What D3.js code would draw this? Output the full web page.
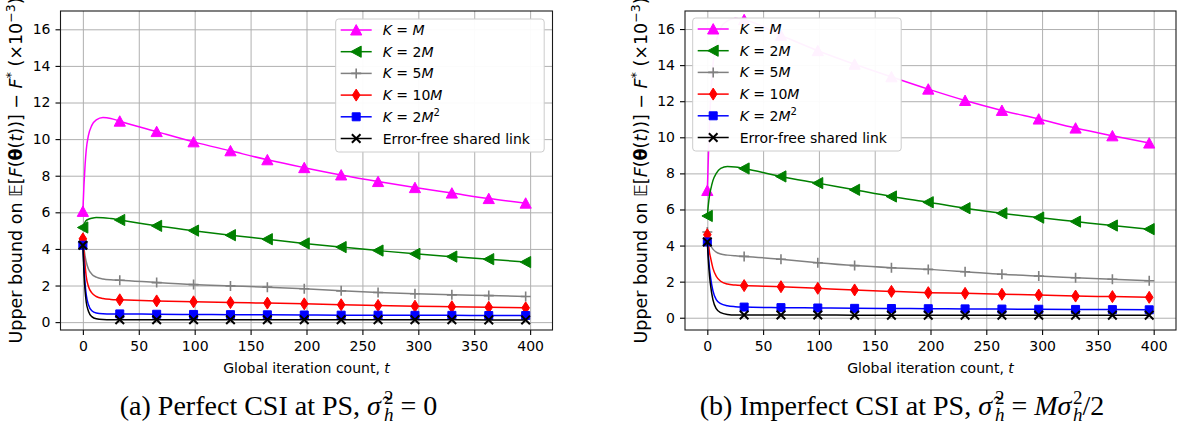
<!DOCTYPE html>
<html lang="en">
<head>
<meta charset="utf-8">
<style>
  body { margin: 0; background: #fff; }
  svg { display: block; font-family: "DejaVu Sans", sans-serif; }
</style>
</head>
<body>
<script src="https://cdn.jsdelivr.net/npm/d3@7"></script>
<script>

// iteration counts where values were read (markers every 33)
var tVals = [0, 1, 2, 3, 5, 8, 12, 18, 25, 33, 66, 99, 132, 165, 198, 231, 264, 297, 330, 363, 396];
var markerT = [0, 33, 66, 99, 132, 165, 198, 231, 264, 297, 330, 363, 396];
var xTicks = [0, 50, 100, 150, 200, 250, 300, 350, 400];
var yTicks = [0, 2, 4, 6, 8, 10, 12, 14, 16];
var legendLabels = ["K = M", "K = 2M", "K = 5M", "K = 10M", "K = 2M^2", "Error-free shared link"];

// (a) perfect CSI
var perfectKM   = [6.05, 7.5, 8.6, 9.4, 10.2, 10.75, 11.05, 11.18, 11.13, 10.98, 10.41, 9.85, 9.36, 8.87, 8.44, 8.04, 7.68, 7.35, 7.05, 6.75, 6.5];
var perfectK2M  = [5.17, 5.35, 5.47, 5.55, 5.62, 5.68, 5.72, 5.71, 5.66, 5.58, 5.26, 5.0, 4.75, 4.53, 4.3, 4.1, 3.91, 3.73, 3.58, 3.44, 3.28];
var perfectK5M  = [4.35, 4.0, 3.6, 3.3, 2.9, 2.62, 2.46, 2.36, 2.31, 2.29, 2.16, 2.05, 1.98, 1.91, 1.82, 1.71, 1.62, 1.55, 1.49, 1.45, 1.4];
var perfectK10M = [4.55, 3.8, 3.1, 2.5, 1.95, 1.6, 1.4, 1.29, 1.24, 1.22, 1.16, 1.11, 1.07, 1.04, 1.0, 0.95, 0.91, 0.87, 0.84, 0.81, 0.78];
var perfectK2M2 = [4.2, 3.0, 2.1, 1.5, 0.95, 0.62, 0.5, 0.46, 0.45, 0.45, 0.43, 0.42, 0.41, 0.4, 0.39, 0.38, 0.38, 0.37, 0.37, 0.36, 0.36];
var perfectFree = [4.2, 2.7, 1.7, 1.1, 0.6, 0.3, 0.18, 0.14, 0.13, 0.13, 0.13, 0.13, 0.13, 0.13, 0.13, 0.13, 0.13, 0.13, 0.13, 0.12, 0.12];

// (b) imperfect CSI
var imperfKM   = [7.05, 9.0, 10.8, 12.2, 14.0, 15.3, 16.05, 16.45, 16.58, 16.52, 15.65, 14.8, 14.05, 13.35, 12.67, 12.04, 11.49, 11.01, 10.51, 10.08, 9.68];
var imperfK2M  = [5.64, 6.3, 6.8, 7.1, 7.6, 8.0, 8.28, 8.38, 8.36, 8.27, 7.83, 7.46, 7.09, 6.72, 6.4, 6.07, 5.79, 5.55, 5.33, 5.11, 4.91];
var imperfK5M  = [4.75, 4.4, 4.15, 4.0, 3.8, 3.63, 3.53, 3.47, 3.43, 3.4, 3.24, 3.05, 2.89, 2.77, 2.68, 2.55, 2.41, 2.31, 2.22, 2.13, 2.05];
var imperfK10M = [4.6, 4.1, 3.6, 3.3, 2.75, 2.3, 2.02, 1.87, 1.81, 1.78, 1.72, 1.63, 1.54, 1.46, 1.39, 1.35, 1.3, 1.26, 1.2, 1.17, 1.13];
var imperfK2M2 = [4.2, 3.4, 2.7, 2.2, 1.5, 1.0, 0.78, 0.66, 0.61, 0.59, 0.56, 0.54, 0.52, 0.51, 0.5, 0.49, 0.48, 0.47, 0.46, 0.45, 0.44];
var imperfFree = [4.2, 3.1, 2.3, 1.75, 1.0, 0.5, 0.28, 0.18, 0.15, 0.15, 0.15, 0.15, 0.14, 0.14, 0.14, 0.14, 0.14, 0.14, 0.14, 0.14, 0.14];

var colors = ["#ff00ff", "#008000", "#808080", "#ff0000", "#0000ff", "#000000"];
var markers = ["triUp", "triLeft", "plus", "thinDiamond", "square", "cross"];

var panels = [
  {id: "a", series: [perfectKM, perfectK2M, perfectK5M, perfectK10M, perfectK2M2, perfectFree],
   left: 60.5, right: 552.5, yMin: -0.43, labelX: 21.7, legendX: 335.7, legendY: 19,
   capX: 278.5, capMain: "(a) Perfect CSI at PS, ", capTail: "a"},
  {id: "b", series: [imperfKM, imperfK2M, imperfK5M, imperfK10M, imperfK2M2, imperfFree],
   left: 685, right: 1176, yMin: -0.68, labelX: 646.7, legendX: 692.7, legendY: 18,
   capX: 902, capMain: "(b) Imperfect CSI at PS, ", capTail: "b"}
];

var plotTop = 11, plotBottom = 330;

function markerPath(type) {
  switch (type) {
    case "triUp": return "M0,-5.4L-5.6,5L5.6,5Z";
    case "triLeft": return "M-5.4,0L5,-5.6L5,5.6Z";
    case "plus": return "M-5,0H5M0,-5V5";
    case "thinDiamond": return "M0,-6L3.8,0L0,6L-3.8,0Z";
    case "square": return "M-4,-4H4V4H-4Z";
    case "cross": return "M-4.3,-4.3L4.3,4.3M-4.3,4.3L4.3,-4.3";
  }
}

function drawMarker(sel, type, color) {
  var open = (type === "plus" || type === "cross");
  sel.append("path")
    .attr("d", markerPath(type))
    .attr("fill", open ? "none" : color)
    .attr("stroke", color)
    .attr("stroke-width", type === "cross" ? 2 : (open ? 1.6 : 1));
}

function mathText(sel, str) {
  if (str.charAt(0) !== "K") { sel.append("tspan").text(str); return; }
  var tokens = str.split(/(K|M|\^\d)/).filter(function(s) { return s.length; });
  tokens.forEach(function(tk) {
    if (tk === "K" || tk === "M") sel.append("tspan").attr("font-style", "italic").text(tk);
    else if (tk.charAt(0) === "^") sel.append("tspan").attr("font-size", 10).attr("dy", -6).text(tk.slice(1));
    else sel.append("tspan").text(tk);
  });
}

// sigma with stacked ^2 and _h, as in the LaTeX captions; next tspan must use dy -6
function sigmaSq(sel, tilde) {
  sel.append("tspan").attr("font-style", "italic").text(tilde ? "\u03C3\u0303" : "\u03C3");
  sel.append("tspan").attr("font-size", 19).attr("dx", tilde ? 3 : 1.5).attr("dy", -11).text("2");
  sel.append("tspan").attr("font-size", 19).attr("font-style", "italic").attr("dx", -9.5).attr("dy", 17).text("h");
}

var svg = d3.select("body").append("svg")
  .attr("width", 1181)
  .attr("height", 427);

panels.forEach(function(p) {
  var x = d3.scaleLinear().domain([-20, 420]).range([p.left, p.right]);
  var y = d3.scaleLinear().domain([p.yMin, 17]).range([plotBottom, plotTop]);
  var g = svg.append("g");

  svg.append("clipPath").attr("id", "clip-" + p.id)
    .append("rect")
    .attr("x", p.left).attr("y", plotTop)
    .attr("width", p.right - p.left).attr("height", plotBottom - plotTop);

  // grid
  g.append("g")
    .attr("transform", "translate(0," + plotBottom + ")")
    .call(d3.axisBottom(x).tickValues(xTicks).tickSize(-(plotBottom - plotTop)).tickFormat(""))
    .call(function(a) { a.select(".domain").remove(); a.selectAll("line").attr("stroke", "#b0b0b0").attr("stroke-width", 1); });
  g.append("g")
    .attr("transform", "translate(" + p.left + ",0)")
    .call(d3.axisLeft(y).tickValues(yTicks).tickSize(-(p.right - p.left)).tickFormat(""))
    .call(function(a) { a.select(".domain").remove(); a.selectAll("line").attr("stroke", "#b0b0b0").attr("stroke-width", 1); });

  // series
  var line = d3.line()
    .x(function(d) { return x(d[0]); })
    .y(function(d) { return y(d[1]); })
    .curve(d3.curveMonotoneX);

  p.series.forEach(function(vals, si) {
    var pts = tVals.map(function(t, i) { return [t, vals[i]]; });
    var sg = g.append("g").attr("clip-path", "url(#clip-" + p.id + ")");
    sg.append("path")
      .attr("d", line(pts))
      .attr("fill", "none")
      .attr("stroke", colors[si])
      .attr("stroke-width", 1.5);
    var mk = pts.filter(function(d) { return markerT.indexOf(d[0]) >= 0; });
    sg.selectAll("g.mk")
      .data(mk)
      .enter().append("g")
      .attr("class", "mk")
      .attr("transform", function(d) { return "translate(" + x(d[0]) + "," + y(d[1]) + ")"; })
      .each(function() { drawMarker(d3.select(this), markers[si], colors[si]); });
  });

  // axes with ticks and labels
  g.append("g")
    .attr("transform", "translate(0," + plotBottom + ")")
    .call(d3.axisBottom(x).tickValues(xTicks).tickSize(5).tickPadding(6.5).tickSizeOuter(0))
    .call(function(a) {
      a.select(".domain").remove();
      a.selectAll("line").attr("stroke", "#000").attr("stroke-width", 1.1);
      a.selectAll("text").attr("font-size", 14).attr("font-family", "DejaVu Sans").attr("fill", "#000");
    });
  g.append("g")
    .attr("transform", "translate(" + p.left + ",0)")
    .call(d3.axisLeft(y).tickValues(yTicks).tickSize(5).tickPadding(5).tickSizeOuter(0))
    .call(function(a) {
      a.select(".domain").remove();
      a.selectAll("line").attr("stroke", "#000").attr("stroke-width", 1.1);
      a.selectAll("text").attr("font-size", 14).attr("font-family", "DejaVu Sans").attr("fill", "#000");
    });

  // spines
  g.append("rect")
    .attr("x", p.left).attr("y", plotTop)
    .attr("width", p.right - p.left).attr("height", plotBottom - plotTop)
    .attr("fill", "none").attr("stroke", "#1a1a1a").attr("stroke-width", 1.1);

  // legend
  var lg = g.append("g").attr("transform", "translate(" + p.legendX + "," + p.legendY + ")");
  lg.append("rect")
    .attr("width", 208.5).attr("height", 133)
    .attr("rx", 3)
    .attr("fill", "#fff").attr("fill-opacity", 0.95)
    .attr("stroke", "#cccccc").attr("stroke-width", 1);
  var rows = lg.selectAll("g.row")
    .data(legendLabels)
    .enter().append("g")
    .attr("class", "row")
    .attr("transform", function(d, i) { return "translate(0," + (11 + i * 21.7) + ")"; });
  rows.append("line")
    .attr("x1", 5).attr("x2", 36)
    .attr("stroke", function(d, i) { return colors[i]; })
    .attr("stroke-width", 1.5);
  rows.each(function(d, i) {
    var m = d3.select(this).append("g").attr("transform", "translate(20.5,0)");
    drawMarker(m, markers[i], colors[i]);
    var t = d3.select(this).append("text")
      .attr("x", 47).attr("y", 5)
      .attr("font-size", 14).attr("fill", "#000");
    mathText(t, d);
  });

  // y label
  var yl = svg.append("text")
    .attr("transform", "translate(" + p.labelX + "," + ((plotTop + plotBottom) / 2) + ") rotate(-90)")
    .attr("text-anchor", "middle")
    .attr("font-size", 17.5)
    .attr("fill", "#000");
  yl.append("tspan").text("Upper bound on ");
  yl.append("tspan").text("\u{1D53C}[");
  yl.append("tspan").attr("font-style", "italic").text("F");
  yl.append("tspan").text("(");
  yl.append("tspan").attr("font-weight", "bold").text("\u03B8");
  yl.append("tspan").text("(");
  yl.append("tspan").attr("font-style", "italic").text("t");
  yl.append("tspan").text("))] \u2212 ");
  yl.append("tspan").attr("font-style", "italic").text("F");
  yl.append("tspan").attr("font-size", 12.5).attr("dy", -7).text("*");
  yl.append("tspan").attr("dy", 7).text(" (\u00D710");
  yl.append("tspan").attr("font-size", 12.5).attr("dy", -7).text("\u22123");
  yl.append("tspan").attr("dy", 7).text(")");

  // x label
  var xl = svg.append("text")
    .attr("x", (p.left + p.right) / 2).attr("y", 372.5)
    .attr("text-anchor", "middle")
    .attr("font-size", 14)
    .attr("fill", "#000");
  xl.append("tspan").text("Global iteration count, ");
  xl.append("tspan").attr("font-style", "italic").text("t");

  // caption
  var cap = svg.append("text")
    .attr("x", p.capX).attr("y", 415)
    .attr("text-anchor", "middle")
    .attr("font-family", "Liberation Serif, serif")
    .attr("font-size", 28)
    .attr("fill", "#000");
  cap.append("tspan").text(p.capMain);
  sigmaSq(cap, true);
  if (p.capTail === "a") {
    cap.append("tspan").attr("dy", -6).text(" = 0");
  } else {
    cap.append("tspan").attr("dy", -6).text(" = ");
    cap.append("tspan").attr("font-style", "italic").text("M");
    sigmaSq(cap, false);
    cap.append("tspan").attr("dy", -6).text("/2");
  }
});

</script>
</body>
</html>
